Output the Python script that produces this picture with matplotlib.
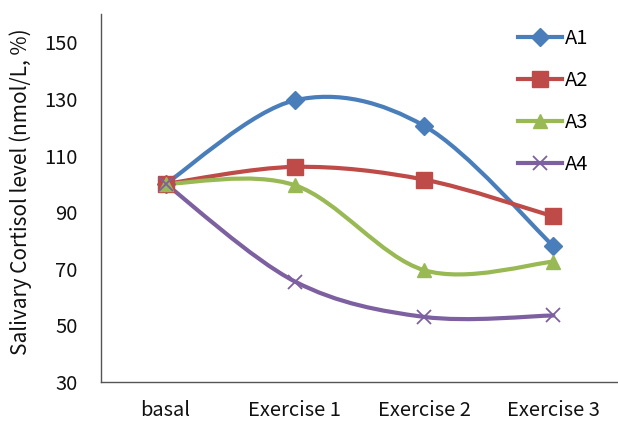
import numpy as np
import matplotlib
matplotlib.use("Agg")
import matplotlib.pyplot as plt
from matplotlib.path import Path
from matplotlib.patches import PathPatch
from matplotlib.lines import Line2D

plt.rcParams['font.family'] = ['Noto Sans CJK KR', 'DejaVu Sans']

categories = ['basal', 'Exercise 1', 'Exercise 2', 'Exercise 3']
a1 = [100, 129.5, 120.5, 78]
a2 = [100, 106, 101.5, 88.5]
a3 = [100, 99.5, 69.5, 72.5]
a4 = [100, 65.5, 53, 53.5]
series_names = ['A1', 'A2', 'A3', 'A4']
yticks = [30, 50, 70, 90, 110, 130, 150]

colors = ['#4A7EBB', '#BE4B48', '#98B954', '#7D60A0']
markers = ['D', 's', '^', 'x']
msizes = [9, 11, 10, 10]


def smooth_path(x, y, t=1/6):
    # excel-like smoothed line: catmull-rom as cubic bezier
    x = np.asarray(x, float)
    y = np.asarray(y, float)
    n = len(x)
    verts = [(x[0], y[0])]
    codes = [Path.MOVETO]
    for i in range(n - 1):
        p0 = (x[max(i - 1, 0)], y[max(i - 1, 0)])
        p1 = (x[i], y[i])
        p2 = (x[i + 1], y[i + 1])
        p3 = (x[min(i + 2, n - 1)], y[min(i + 2, n - 1)])
        c1 = (p1[0] + (p2[0] - p0[0]) * t, p1[1] + (p2[1] - p0[1]) * t)
        c2 = (p2[0] - (p3[0] - p1[0]) * t, p2[1] - (p3[1] - p1[1]) * t)
        verts += [c1, c2, p2]
        codes += [Path.CURVE4] * 3
    return Path(verts, codes)


fig = plt.figure(figsize=(6.18, 4.28), dpi=100)
ax = fig.add_axes([101/618, 1 - 382/428, 517/618, 368/428])

xs = np.arange(len(categories))
handles = []
for vals, c, m, ms, name in zip([a1, a2, a3, a4], colors, markers, msizes, series_names):
    ax.add_patch(PathPatch(smooth_path(xs, vals), facecolor='none', edgecolor=c,
                           lw=3.0, capstyle='round', zorder=2))
    if m == 'x':
        ax.plot(xs, vals, ls='none', marker=m, ms=ms, mew=1.3, color=c, zorder=3)
    else:
        ax.plot(xs, vals, ls='none', marker=m, ms=ms, color=c, mec=c, zorder=3)
    handles.append(Line2D([], [], color=c, lw=3.0, marker=m, ms=ms,
                          mew=1.3 if m == 'x' else 1))

ax.set_xlim(-0.5, 3.5)
ax.set_ylim(30, 160)
ax.set_xticks(xs)
ax.set_xticklabels(categories)
ax.set_yticks(yticks)
ax.tick_params(length=0, labelsize=14.5, colors='#111111')
ax.tick_params(axis='y', pad=17)
ax.tick_params(axis='x', pad=13)
for s in ['top', 'right']:
    ax.spines[s].set_visible(False)
for s in ['left', 'bottom']:
    ax.spines[s].set_color('#555555')
    ax.spines[s].set_linewidth(1.0)

fig.text(21/618, 1 - 192/428, 'Salivary Cortisol level (nmol/L, %)', rotation=90,
         ha='center', va='center', fontsize=15, color='#111111')

ax.legend(handles, series_names, loc='upper right', bbox_to_anchor=(0.965, 0.995),
          frameon=False, fontsize=14.5, handlelength=2.2, handletextpad=0.1,
          labelspacing=1.05, borderaxespad=0.2)

fig.savefig('out.png', dpi=100)
